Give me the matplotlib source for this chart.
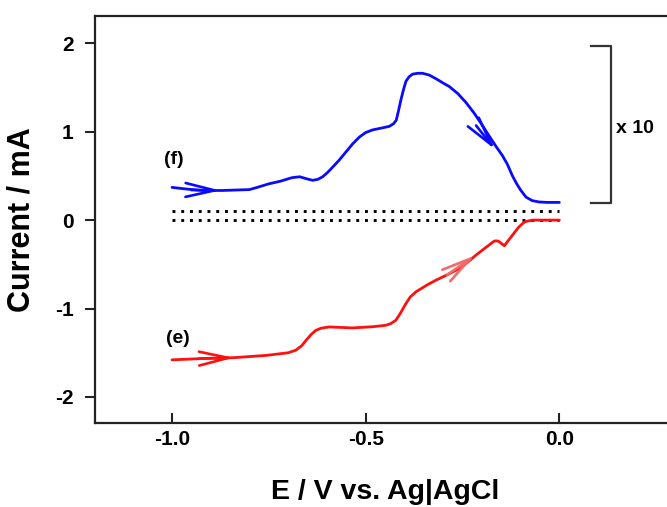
import matplotlib
matplotlib.use("Agg")
import matplotlib.pyplot as plt

# ----------------------------------------------------------------------
# data
# ----------------------------------------------------------------------
# (f) anodic sweep, blue (scaled x 10)
f_E = [-1.0, -0.96, -0.92, -0.87, -0.80, -0.78, -0.75, -0.72, -0.69, -0.67,
       -0.655, -0.637, -0.624, -0.611, -0.598, -0.585, -0.568, -0.551, -0.534,
       -0.516, -0.50, -0.482, -0.46, -0.439, -0.428, -0.421, -0.415, -0.409,
       -0.402, -0.396, -0.388, -0.379, -0.366, -0.353, -0.336, -0.319, -0.30,
       -0.284, -0.262, -0.241, -0.22, -0.20, -0.181, -0.163, -0.147, -0.134,
       -0.121, -0.11, -0.10, -0.086, -0.07, -0.052, -0.03, 0.0]
f_I = [0.37, 0.35, 0.335, 0.335, 0.345, 0.37, 0.41, 0.44, 0.48, 0.49,
       0.47, 0.45, 0.46, 0.49, 0.54, 0.60, 0.68, 0.77, 0.86,
       0.94, 0.99, 1.02, 1.04, 1.06, 1.09, 1.13, 1.24, 1.36,
       1.48, 1.57, 1.62, 1.65, 1.66, 1.66, 1.64, 1.60, 1.55,
       1.51, 1.43, 1.33, 1.21, 1.08, 0.95, 0.83, 0.73, 0.63,
       0.50, 0.41, 0.34, 0.26, 0.22, 0.205, 0.20, 0.20]

# (e) cathodic curve, red
e_E = [-1.0, -0.92, -0.84, -0.757, -0.70, -0.68, -0.665, -0.654, -0.64,
       -0.628, -0.615, -0.594, -0.534, -0.48, -0.448, -0.435, -0.422, -0.41,
       -0.396, -0.385, -0.370, -0.355, -0.34, -0.319, -0.29, -0.258, -0.235,
       -0.215, -0.19, -0.168, -0.16, -0.155, -0.142, -0.121, -0.105, -0.09,
       -0.07, -0.04, 0.0]
e_I = [-1.58, -1.565, -1.555, -1.53, -1.50, -1.47, -1.42, -1.36, -1.29,
       -1.245, -1.222, -1.208, -1.219, -1.205, -1.189, -1.17, -1.132, -1.05,
       -0.943, -0.87, -0.81, -0.77, -0.73, -0.68, -0.62, -0.546, -0.47,
       -0.395, -0.31, -0.237, -0.235, -0.245, -0.29, -0.17, -0.08, -0.02,
       0.0, 0.0, 0.0]

# baselines (dotted)
base_E = [-1.0, 0.0]
base_f = [0.1, 0.1]
base_e = [0.0, 0.0]

# arrows: (tail, tip) along the curves
arrows_f = [((-0.95, 0.34), (-0.875, 0.335)),
            ((-0.215, 1.07), (-0.166, 0.80))]
arrows_e = [((-0.93, -1.566), (-0.84, -1.556)),
            ((-0.29, -0.62), (-0.218, -0.40))]

# "x 10" bracket
bracket_E = [0.082, 0.134, 0.134, 0.082]
bracket_I = [1.97, 1.97, 0.188, 0.188]

xticks = [-1.0, -0.5, 0.0]
yticks = [-2, -1, 0, 1, 2]

BLUE = "#0a0aff"
RED = "#ff1010"
RED_LIGHT = "#f26a6a"
INK = "#222222"

plt.rcParams["font.family"] = ["Liberation Sans", "DejaVu Sans"]
plt.rcParams["font.weight"] = "bold"

fig = plt.figure(figsize=(6.67, 5.07), dpi=100, facecolor="white")
ax = fig.add_axes([0.1417, 0.1657, 0.8711, 0.8033])
ax.set_xlim(-1.2, 0.3)
ax.set_ylim(-2.294, 2.311)

ax.plot(base_E, base_f, color="black", lw=2.1, ls=(0, (1, 2.0)))
ax.plot(base_E, base_e, color="black", lw=2.1, ls=(0, (1, 2.0)))
ax.plot(f_E, f_I, color=BLUE, lw=2.0, solid_capstyle="round", solid_joinstyle="round")
ax.plot(e_E, e_I, color=RED, lw=2.0, solid_capstyle="round", solid_joinstyle="round")

style = "->,head_length=2.1,head_width=0.5"
for (tail, tip) in arrows_f:
    ax.annotate("", xy=tip, xytext=tail,
                arrowprops=dict(arrowstyle=style, color=BLUE, lw=1.9,
                                shrinkA=0, shrinkB=0))
for i, (tail, tip) in enumerate(arrows_e):
    ax.annotate("", xy=tip, xytext=tail,
                arrowprops=dict(arrowstyle=style,
                                color=RED if i == 0 else RED_LIGHT, lw=1.9,
                                shrinkA=0, shrinkB=0))

ax.plot(bracket_E, bracket_I, color="#333333", lw=1.6)
ax.text(0.146, 1.036, "x 10", fontsize=14, weight="bold", va="center", ha="left")
ax.text(-0.994, 0.69, "(f)", fontsize=14, weight="bold", va="center", ha="center")
ax.text(-0.985, -1.336, "(e)", fontsize=14, weight="bold", va="center", ha="center")

ax.set_xticks(xticks)
ax.set_xticklabels([f"{v:.1f}" for v in xticks])
ax.set_yticks(yticks)
ax.set_yticklabels([str(v) for v in yticks])
ax.tick_params(axis="x", direction="in", length=7, width=1.5, color=INK,
               labelsize=15, pad=5)
ax.tick_params(axis="y", direction="out", length=7, width=1.5, color=INK,
               labelsize=15, pad=8)
for lab in ax.get_xticklabels() + ax.get_yticklabels():
    lab.set_fontweight("bold")

for s in ("left", "bottom", "top"):
    ax.spines[s].set_linewidth(1.6)
    ax.spines[s].set_color(INK)
ax.spines["right"].set_visible(False)

ax.set_xlabel("E / V vs. Ag|AgCl", fontsize=20.5, weight="bold", labelpad=22)
ax.set_ylabel("Current / mA", fontsize=22, weight="bold", labelpad=13)

fig.savefig("out.png", dpi=100, facecolor="white")
